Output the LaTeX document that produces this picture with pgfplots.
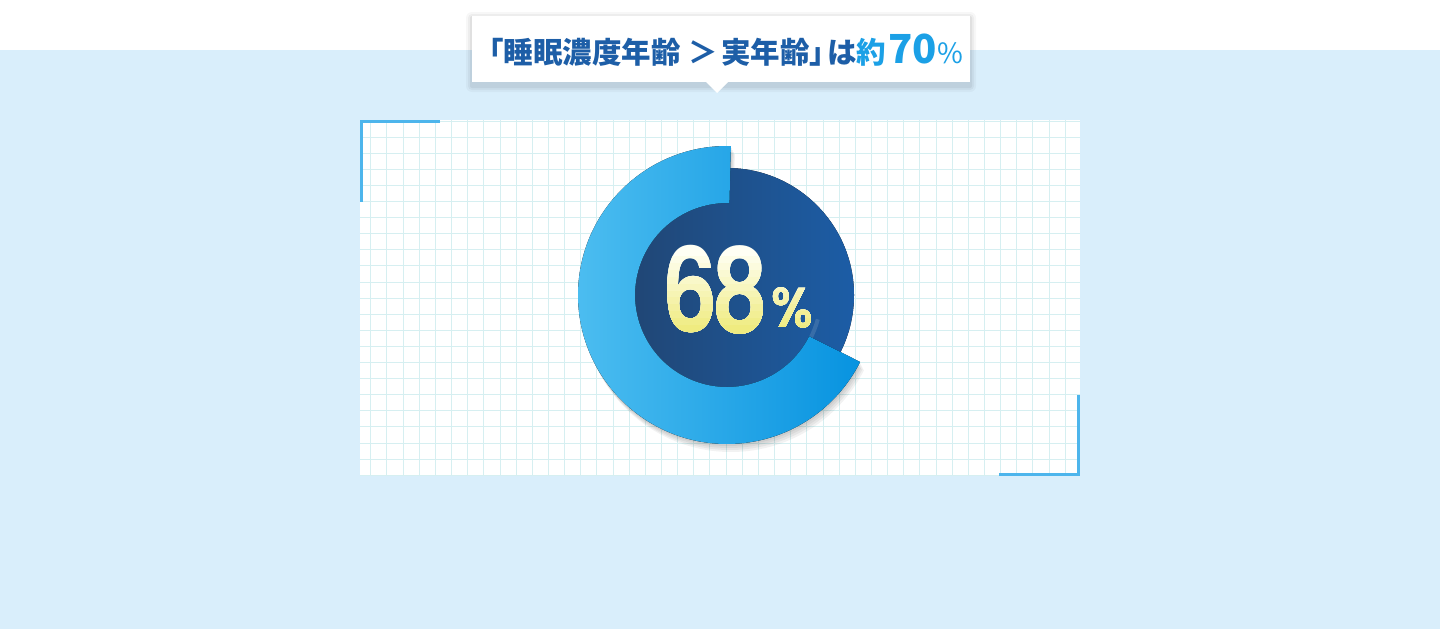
\documentclass[border=0pt]{standalone}
\usepackage{pgfplots}
\pgfplotsset{compat=1.18}
\usepackage{pgfplotstable}
\usepackage{fontspec}
\setmainfont{Noto Sans}
\newfontfamily\cjk{Noto Sans CJK JP}
\newfontfamily\pop{Poppins}[UprightFont={* SemiBold}]

\definecolor{bgblue}{HTML}{D9EEFB}
\definecolor{dblue}{HTML}{1D5EA7}
\definecolor{lblue}{HTML}{1BA0E6}
\definecolor{gridc}{HTML}{D6EFF1}
\definecolor{brk}{HTML}{4DB5EC}
\definecolor{disc1}{HTML}{21436E}
\definecolor{disc2}{HTML}{1C5DA6}
\definecolor{ring1}{HTML}{4CBDF0}
\definecolor{ring2}{HTML}{0793E0}
\definecolor{ytop}{HTML}{FFFFF4}
\definecolor{ybot}{HTML}{EFEB80}

% share of people whose sleep-depth age is above their real age
\pgfplotstableread{
part value
older 68
rest  32
}\donutdata
\pgfplotstablegetelem{0}{value}\of\donutdata
\let\share\pgfplotsretval
\pgfmathsetmacro{\ringstart}{88.5}
\pgfmathsetmacro{\ringend}{\ringstart+3.6*\share}

\begin{document}
\begin{tikzpicture}[x=1pt,y=1pt]
\useasboundingbox (0,-629) rectangle (1440,0);
% background
\fill[white] (0,-629) rectangle (1440,0);
\fill[bgblue] (0,-629) rectangle (1440,-50);

% callout shadow
\foreach \s/\o in {6/0.03,4/0.04,2/0.05}{
  \fill[black,opacity=\o,rounded corners=\s] (472-\s,-86-\s) rectangle (970+\s,-18+\s);
}
\fill[white] (472,-82) rectangle (970,-16);
\fill[white] (705,-81) -- (729,-81) -- (717,-93) -- cycle;
\node[anchor=base west,inner sep=0pt] at (474,-63)
  {\cjk\bfseries\fontsize{29.5}{30}\selectfont\color{dblue}「睡眠濃度年齢\hspace{8pt}＞\hspace{3pt}実年齢」\hspace{-12pt}は\color{lblue}約\hspace{2pt}{\fontsize{40}{40}\selectfont 70}\hspace{1pt}{\mdseries\fontsize{28}{28}\selectfont\%}};

% grid panel
\begin{axis}[
  at={(360pt,-120pt)}, anchor=north west,
  width=720pt, height=356pt, scale only axis,
  xmin=0, xmax=720, ymin=0, ymax=356, y dir=reverse,
  axis background/.style={fill=white},
  xtick={10.7,26.85,...,715}, ytick={0.9,17,...,350},
  xticklabels={}, yticklabels={},
  grid=major, major grid style={draw=gridc, line width=0.8pt},
  axis line style={draw=none}, tick style={draw=none},
]
\end{axis}

% donut
\begin{axis}[
  at={(360pt,-120pt)}, anchor=north west,
  width=720pt, height=356pt, scale only axis,
  xmin=0, xmax=720, ymin=0, ymax=356, y dir=reverse,
  hide axis, clip=false,
]
\pgfplotsinvokeforeach{2,4,6,8}{
  \fill[black,opacity=0.05,xshift=#1*0.5pt,yshift=-#1pt]
    (axis cs:367,175) ++(\ringstart:149pt) arc[start angle=\ringstart,end angle=\ringend,radius=149pt]
    -- ([shift={(\ringend:92pt)}]axis cs:367,175) arc[start angle=\ringend,end angle=\ringstart,radius=92pt] -- cycle;
}
\fill[left color=disc1,right color=disc2] (axis cs:367,175) circle[radius=127pt];
% faint glow on the disc along the ring's inner edge
\draw[white,opacity=0.12,line width=4pt] ([shift={(200:94pt)}]axis cs:367,175) arc[start angle=200,end angle=345,radius=94pt];
\fill[left color=ring1,right color=ring2]
  (axis cs:367,175) ++(\ringstart:149pt) arc[start angle=\ringstart,end angle=\ringend,radius=149pt]
  -- ([shift={(\ringend:92pt)}]axis cs:367,175) arc[start angle=\ringend,end angle=\ringstart,radius=92pt] -- cycle;
% corner brackets
\draw[brk,line width=3pt] (axis cs:80,1.3) -- (axis cs:1.3,1.3) -- (axis cs:1.3,82);
\draw[brk,line width=3pt] (axis cs:718.3,275) -- (axis cs:718.3,354.5) -- (axis cs:639,354.5);
\end{axis}

% value label with a vertical cream-to-yellow fade
\foreach \i in {0,...,11}{
  \pgfmathsetmacro{\ya}{-250-\i*82/12+(\i==0)*20}
  \pgfmathtruncatemacro{\p}{100-\i*100/11}
  \begin{scope}
    \clip (600,\ya) rectangle (850,-350);
    \node[anchor=base,inner sep=0pt,text=ytop!\p!ybot,xscale=0.76] at (715,-332)
      {\pop\fontsize{117}{117}\selectfont 6\kern-10pt 8};
    \node[anchor=base,inner sep=0pt,text=ytop!\p!ybot,xscale=0.9] at (792,-327)
      {\pop\fontsize{56}{56}\selectfont\%};
  \end{scope}
}
\end{tikzpicture}
\end{document}
